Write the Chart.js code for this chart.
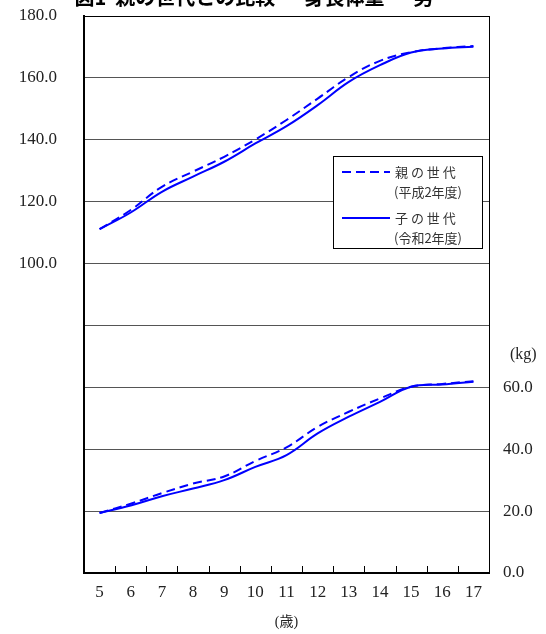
<!DOCTYPE html>
<html lang="ja">
<head>
    <meta charset="UTF-8">
    <title>親の世代との比較</title>
    <style>
        html, body {
            margin: 0;
            padding: 0;
            background: #fff;
        }
        #wrap {
            width: 546px;
            height: 634px;
        }
    </style>
</head>
<body>
    <div id="wrap"><canvas id="chart" width="546" height="634"></canvas></div>

    <script src="https://cdn.jsdelivr.net/npm/chart.js@4"></script>
    <script>
        // 年齢 (歳)
        const ages = ['5', '6', '7', '8', '9', '10', '11', '12', '13', '14', '15', '16', '17'];

        // 身長 (cm)
        const heightParent = [111.1, 117.3, 124.8, 129.7, 134.5, 140.1, 146.4, 153.3, 160.3, 165.5, 168.3, 169.6, 170.3];
        const heightChild  = [111.1, 116.5, 123.2, 128.1, 132.9, 138.8, 144.4, 151.2, 158.7, 164.1, 168.2, 169.5, 170.1];

        // 体重 (kg)
        const weightParent = [19.4, 22.4, 25.8, 28.9, 31.2, 36.2, 40.6, 47.2, 52.1, 56.4, 60.2, 61.1, 62.0];
        const weightChild  = [19.4, 21.8, 24.8, 27.3, 30.0, 34.3, 38.1, 45.1, 50.5, 55.3, 60.2, 60.9, 61.8];

        const leftTicks = [100, 120, 140, 160, 180];
        const rightTicks = [0, 20, 40, 60];

        const legendItems = [
            { name: '親 の 世 代', sub: '(平成2年度)', dataset: 0 },
            { name: '子 の 世 代', sub: '(令和2年度)', dataset: 1 }
        ];

        const titleText = '図1  親の世代との比較 ー 身長体重 ー 男';

        const tickFont = { family: '"Liberation Serif", "DejaVu Serif", serif', size: 17 };
        const textColor = '#222';
        const blue = '#0000ff';

        function lineSet(label, data, dashed) {
            return {
                label: label,
                data: data,
                borderColor: blue,
                backgroundColor: blue,
                borderWidth: 2,
                borderDash: dashed ? [9, 5] : [],
                pointRadius: 0,
                tension: 0.4,
                fill: false,
                yAxisID: 'y'
            };
        }

        // 縦軸のラベル分の余白を消してプロット上端を固定する
        function fitY(width) {
            return function (scale) {
                scale.width = width;
                scale.paddingTop = 0;
                scale.paddingBottom = 0;
            };
        }

        // 図タイトル (上端で切れている)
        const titlePlugin = {
            id: 'titleText',
            afterDraw(chart) {
                const ctx = chart.ctx;
                ctx.save();
                ctx.font = 'bold 20px "Noto Sans CJK JP", sans-serif';
                ctx.fillStyle = '#000';
                ctx.textAlign = 'center';
                ctx.textBaseline = 'alphabetic';
                ctx.fillText(titleText, 254, 5);
                ctx.restore();
            }
        };

        // x軸の内向き目盛り
        const innerTicks = {
            id: 'innerTicks',
            afterDraw(chart) {
                const xs = chart.scales.x;
                const bottom = chart.chartArea.bottom;
                const ctx = chart.ctx;
                ctx.save();
                ctx.strokeStyle = '#000';
                ctx.lineWidth = 1;
                for (let i = 1; i < ages.length; i++) {
                    const x = Math.round((xs.getPixelForValue(i - 1) + xs.getPixelForValue(i)) / 2) + 0.5;
                    ctx.beginPath();
                    ctx.moveTo(x, bottom - 7);
                    ctx.lineTo(x, bottom);
                    ctx.stroke();
                }
                ctx.restore();
            }
        };

        // 単位ラベル
        const unitLabels = {
            id: 'unitLabels',
            afterDraw(chart) {
                const area = chart.chartArea;
                const ctx = chart.ctx;
                ctx.save();
                ctx.fillStyle = textColor;
                ctx.textBaseline = 'middle';
                ctx.font = '16px "Liberation Serif", serif';
                ctx.textAlign = 'left';
                ctx.fillText('(kg)', area.right + 21, 355);
                ctx.font = '14px "Liberation Serif", "Noto Sans CJK JP", serif';
                ctx.textAlign = 'center';
                ctx.fillText('(歳)', (area.left + area.right) / 2, 622);
                ctx.restore();
            }
        };

        // 凡例 (プロット内の枠)
        const boxLegend = {
            id: 'boxLegend',
            afterDatasetsDraw(chart) {
                const area = chart.chartArea;
                const ctx = chart.ctx;
                const x0 = area.left + 249, y0 = area.top + 140, w = 149, h = 92;
                ctx.save();
                ctx.fillStyle = '#fff';
                ctx.fillRect(x0, y0, w, h);
                ctx.strokeStyle = '#000';
                ctx.lineWidth = 1;
                ctx.strokeRect(x0 + 0.5, y0 + 0.5, w, h);
                legendItems.forEach((item, i) => {
                    const ds = chart.data.datasets[item.dataset];
                    const ly = y0 + 16 + i * 46;
                    ctx.strokeStyle = ds.borderColor;
                    ctx.lineWidth = ds.borderWidth;
                    ctx.setLineDash(ds.borderDash);
                    ctx.beginPath();
                    ctx.moveTo(x0 + 9, ly);
                    ctx.lineTo(x0 + 57, ly);
                    ctx.stroke();
                    ctx.setLineDash([]);
                    ctx.fillStyle = '#333';
                    ctx.textAlign = 'left';
                    ctx.textBaseline = 'middle';
                    ctx.font = '13px "Noto Sans CJK JP", sans-serif';
                    ctx.fillText(item.name, x0 + 62, ly);
                    ctx.fillText(item.sub, x0 + 61, ly + 20);
                });
                ctx.restore();
            }
        };

        new Chart(document.getElementById('chart'), {
            type: 'line',
            data: {
                labels: ages,
                datasets: [
                    lineSet('親の世代 身長', heightParent, true),
                    lineSet('子の世代 身長', heightChild, false),
                    lineSet('親の世代 体重', weightParent, true),
                    lineSet('子の世代 体重', weightChild, false)
                ]
            },
            options: {
                responsive: false,
                animation: false,
                layout: { padding: { top: 16, left: 0, right: 0, bottom: 0 } },
                plugins: {
                    legend: { display: false },
                    title: { display: false },
                    tooltip: { enabled: false }
                },
                scales: {
                    x: {
                        offset: true,
                        grid: { offset: true, drawOnChartArea: false, drawTicks: false },
                        border: { color: '#000', width: 2 },
                        ticks: { padding: 9, font: tickFont, color: textColor },
                        afterFit(scale) {
                            scale.height = 61;
                            scale.paddingLeft = 0;
                            scale.paddingRight = 0;
                        }
                    },
                    y: {
                        position: 'left',
                        min: 0,
                        max: 180,
                        grid: {
                            drawTicks: false,
                            color: ctx => (ctx.tick && ctx.tick.value === 180) ? '#000' : '#555'
                        },
                        border: { color: '#000', width: 2 },
                        ticks: {
                            stepSize: 20,
                            padding: 27,
                            font: tickFont,
                            color: textColor,
                            callback: v => leftTicks.includes(v) ? v.toFixed(1) : ''
                        },
                        afterFit: fitY(84)
                    },
                    y2: {
                        position: 'right',
                        min: 0,
                        max: 180,
                        grid: { drawOnChartArea: false, drawTicks: false },
                        border: { color: '#000', width: 1 },
                        ticks: {
                            stepSize: 20,
                            padding: 14,
                            font: tickFont,
                            color: textColor,
                            callback: v => rightTicks.includes(v) ? v.toFixed(1) : ''
                        },
                        afterFit: fitY(57)
                    }
                }
            },
            plugins: [boxLegend, innerTicks, unitLabels, titlePlugin]
        });
    </script>
</body>
</html>
